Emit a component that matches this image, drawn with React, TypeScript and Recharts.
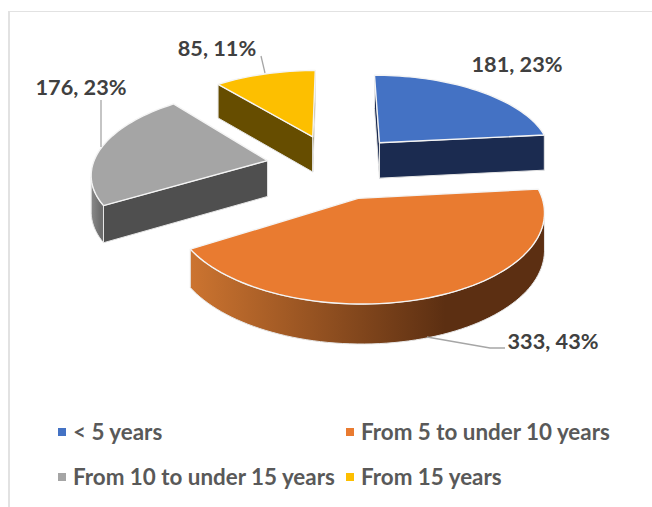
import React from 'react';
import { PieChart, Pie, Legend } from 'recharts';

// Tenure bands and respondent counts
const categories = ['< 5 years', 'From 5 to under 10 years', 'From 10 to under 15 years', 'From 15 years'];
const counts = [181, 333, 176, 85];
const topColors = ['#4472C4', '#E97B30', '#A5A5A5', '#FDBF00'];
const flatWall = ['#1B2B50', '#5C2F12', '#4F4F4F', '#664D00'];
const curveLight = ['#1B2B50', '#CC7430', '#8A8A8A', '#664D00'];
const curveDark = ['#1B2B50', '#5C2F12', '#6E6E6E', '#664D00'];

const rows = categories.map((name, i) => ({ name, value: counts[i], fill: topColors[i] }));

// Scene parameters of the tilted pie: explosion distance, tilt, camera distance and slice height
const EXPLODE = 69;
const TILT = 0.47;
const CAMERA = 1325;
const HEIGHT = 36;
const CENTER_X = 335;
const CENTER_Y = 166;
const RADIUS = 175;
const FIRST_ANGLE = 90;

const LABEL_FONT = 'Lato, "Open Sans", sans-serif';

type Pt = { x: number; y: number };
const rad = (d: number) => (d * Math.PI) / 180;

// Places a point of the exploded slice in the perspective view; theta runs clockwise from 12 o'clock
function project(theta: number, r: number, mid: number, drop: number, cx: number, cy: number): Pt {
  const gx = r * Math.sin(rad(theta)) + EXPLODE * Math.sin(rad(mid));
  const gy = r * Math.cos(rad(theta)) + EXPLODE * Math.cos(rad(mid));
  const p = CAMERA / (CAMERA + gy);
  return {
    x: cx + gx * p,
    y: cy - gy * TILT * p + drop * HEIGHT * (1 + (p - 1) * 0.5),
  };
}

const toPath = (pts: Pt[]) => pts.map((q, i) => `${i ? 'L' : 'M'}${q.x.toFixed(2)},${q.y.toFixed(2)}`).join('') + 'Z';

function Slice(props: any) {
  const { cx, cy, outerRadius, startAngle, endAngle, index, fill } = props;
  const a0 = 90 - startAngle;
  const a1 = 90 - endAngle;
  const mid = (a0 + a1) / 2;
  const at = (t: number, r: number, d: number) => project(t, r, mid, d, cx, cy);
  const steps = Math.max(8, Math.ceil((a1 - a0) / 2));
  const angles = Array.from({ length: steps + 1 }, (_, k) => a0 + ((a1 - a0) * k) / steps);
  const rim = angles.map((t) => at(t, outerRadius, 0));
  const apex = at(0, 0, 0);

  const walls: React.ReactNode[] = [];
  const outline = '#E6E6E6';
  const gradId = `wall-${index}`;

  // Straight walls that turn towards the viewer
  const radial = (t: number, key: string) => {
    const q = [apex, at(t, outerRadius, 0), at(t, outerRadius, 1), at(0, 0, 1)];
    walls.push(<path key={key} d={toPath(q)} fill={flatWall[index]} stroke={outline} strokeWidth={1} strokeLinejoin="round" />);
  };
  if (rim[0].x < apex.x) radial(a0, 'start');
  if (apex.x < rim[rim.length - 1].x) radial(a1, 'end');

  // Curved wall: only the run of the rim that travels leftwards on screen is visible
  const run: number[] = [];
  for (let k = 0; k < angles.length - 1; k++) {
    if (rim[k + 1].x < rim[k].x) {
      if (!run.length) run.push(angles[k]);
      run.push(angles[k + 1]);
    }
  }
  if (run.length) {
    const upper = run.map((t) => at(t, outerRadius, 0));
    const lower = run.map((t) => at(t, outerRadius, 1)).reverse();
    walls.push(<path key="curve" d={toPath([...upper, ...lower])} fill={`url(#${gradId})`} stroke={outline} strokeWidth={1} strokeLinejoin="round" />);
  }

  return (
    <g>
      <defs>
        <linearGradient id={gradId} x1="0" y1="0" x2="1" y2="0">
          <stop offset="0%" stopColor={curveLight[index]} />
          <stop offset="72%" stopColor={curveDark[index]} />
          <stop offset="100%" stopColor={curveDark[index]} />
        </linearGradient>
      </defs>
      {walls}
      <path d={toPath([apex, ...rim])} fill={fill} stroke="#F4F4F4" strokeWidth={1.4} strokeLinejoin="round" />
    </g>
  );
}

// Where each data label sits and how its leader bends, by slice
const labelSpots = [
  { x: 517, y: 64, lead: null as null | [number, number][] },
  { x: 553, y: 341, lead: [[427, 337], [490, 348], [505, 348]] as [number, number][] },
  { x: 81, y: 87, lead: [[101, 100], [101, 147]] as [number, number][] },
  { x: 217, y: 48, lead: [[261, 56], [265, 73]] as [number, number][] },
];

function SliceLabel(props: any) {
  const { index, value, percent } = props;
  const spot = labelSpots[index];
  return (
    <g>
      {spot.lead && (
        <polyline points={spot.lead.map((q) => q.join(',')).join(' ')} fill="none" stroke="#A6A6A6" strokeWidth={1.3} />
      )}
      <text x={spot.x} y={spot.y} textAnchor="middle" dominantBaseline="central" fontFamily={LABEL_FONT} fontWeight={700} fontSize={21.7} fill="#404040">
        {`${value}, ${Math.round(percent * 100)}%`}
      </text>
    </g>
  );
}

const legendSpots = [
  { x: 58, y: 432, text: 73 },
  { x: 346, y: 432, text: 361 },
  { x: 58, y: 477, text: 73 },
  { x: 346, y: 477, text: 361 },
];

function LegendBlock() {
  return (
    <div style={{ position: 'relative', width: 652, height: 507 }}>
      {rows.map((row, i) => (
        <React.Fragment key={row.name}>
          <span style={{ position: 'absolute', left: legendSpots[i].x, top: legendSpots[i].y - 4, width: 8, height: 8, background: row.fill }} />
          <span style={{ position: 'absolute', left: legendSpots[i].text, top: legendSpots[i].y - 14, lineHeight: '28px', height: 28, fontFamily: LABEL_FONT, fontWeight: 700, fontSize: 22.4, color: '#595959', whiteSpace: 'nowrap' }}>
            {row.name}
          </span>
        </React.Fragment>
      ))}
    </div>
  );
}

export default function App() {
  return (
    <div style={{ position: 'absolute', left: 0, top: 0, width: 652, height: 507, background: '#fff', overflow: 'hidden' }}>
      <div style={{ position: 'absolute', left: 8, top: 11, width: 644, height: 1, background: '#E2E2E2' }} />
      <div style={{ position: 'absolute', left: 8, top: 11, width: 2, height: 496, background: '#E2E2E2' }} />
      <PieChart width={652} height={507} margin={{ top: 0, right: 0, bottom: 0, left: 0 }} style={{ position: 'absolute', left: 0, top: 0 }}>
        <Pie
          data={rows}
          dataKey="value"
          nameKey="name"
          cx={CENTER_X}
          cy={CENTER_Y}
          outerRadius={RADIUS}
          startAngle={FIRST_ANGLE}
          endAngle={FIRST_ANGLE - 360}
          isAnimationActive={false}
          shape={Slice}
          label={SliceLabel}
          labelLine={false}
          stroke="none"
        />
        <Legend content={LegendBlock} wrapperStyle={{ position: 'absolute', left: 0, top: 0, width: 652, height: 507, pointerEvents: 'none' }} />
      </PieChart>
    </div>
  );
}
